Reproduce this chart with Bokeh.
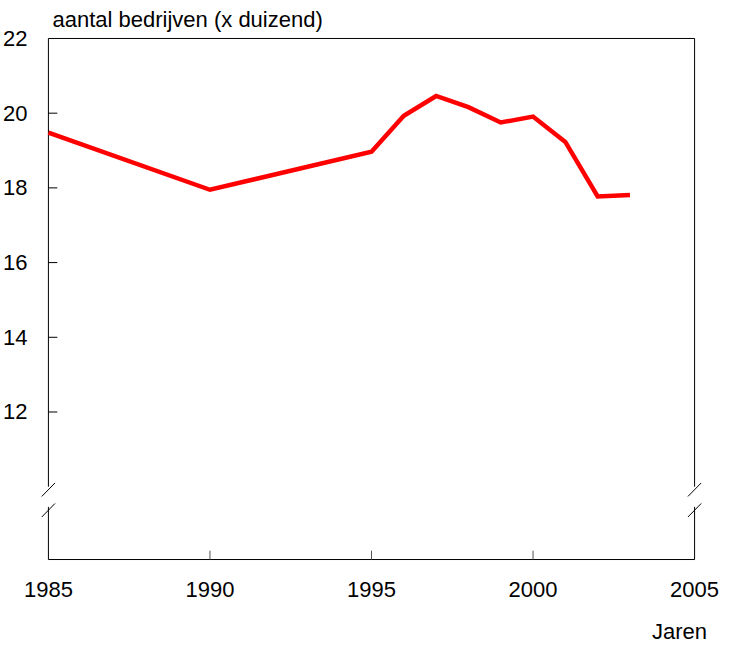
from bokeh.plotting import figure
from bokeh.models import Range1d, FixedTicker, ColumnDataSource, Div
from bokeh.layouts import column
from bokeh.embed import file_html
from bokeh.resources import INLINE

# ---- data ----
years = [1985, 1990, 1995, 1996, 1997, 1998, 1999, 2000, 2001, 2002, 2003]
bedrijven = [19.48, 17.95, 18.97, 19.93, 20.46, 20.16, 19.75, 19.91, 19.23, 17.77, 17.81]
x_ticks = [1985, 1990, 1995, 2000, 2005]
y_ticks = [12, 14, 16, 18, 20, 22]
y_axis_min = 8.05
y_break_upper = 10.0   # axis line stops here
y_break_lower = 9.46   # axis line resumes here
y_slashes = [9.92, 9.37]
title_text = "aantal bedrijven (x duizend)"
x_title = "Jaren"

FONT = "Liberation Sans"

# ---- layout (pixels) ----
W, H_TOTAL = 719, 630
H = 623
pad_x, pad_y = 8, 2
axis_left_px, axis_right_px = 41, 694
axis_top_px, axis_bottom_px = 31, 559
x0, x1 = x_ticks[0], x_ticks[-1]
y1 = y_ticks[-1]
px_per_x = (axis_right_px - axis_left_px) / (x1 - x0)
px_per_y = (axis_bottom_px - axis_top_px) / (y1 - y_axis_min)

p = figure(
    width=W, height=H,
    output_backend="svg", toolbar_location=None,
    x_range=Range1d(x0 - pad_x / px_per_x, x1 + pad_x / px_per_x),
    y_range=Range1d(y_axis_min - pad_y / px_per_y, y1 + pad_y / px_per_y),
    min_border_left=axis_left_px - pad_x,
    min_border_right=W - axis_right_px - pad_x,
    min_border_top=axis_top_px - pad_y,
    min_border_bottom=H - axis_bottom_px - pad_y,
    title=title_text,
)
p.outline_line_color = None
p.grid.visible = False
p.background_fill_color = "white"
p.border_fill_color = "white"

p.title.text_font = FONT
p.title.text_font_size = "22px"
p.title.text_font_style = "normal"
p.title.text_color = "black"
p.title.align = "left"
p.title.offset = 12
p.title.standoff = 9

for ax in (p.xaxis[0], p.yaxis[0]):
    ax.axis_line_color = None
    ax.major_tick_in = 0
    ax.major_tick_out = 0
    ax.minor_tick_line_color = None
    ax.major_label_text_font = FONT
    ax.major_label_text_font_size = "22px"
    ax.major_label_text_color = "black"

p.xaxis[0].ticker = FixedTicker(ticks=x_ticks)
p.yaxis[0].ticker = FixedTicker(ticks=y_ticks)
p.xaxis[0].major_label_standoff = 20
p.yaxis[0].major_label_standoff = 13

# ---- frame with broken vertical axes ----
fx0, fy0, fx1, fy1 = [], [], [], []
def seg(a, b, c, d):
    fx0.append(a); fy0.append(b); fx1.append(c); fy1.append(d)

seg(x0, y1, x1, y1)                      # top
seg(x0, y_axis_min, x1, y_axis_min)      # bottom
for xx in (x0, x1):
    seg(xx, y1, xx, y_break_upper)
    seg(xx, y_break_lower, xx, y_axis_min)
    for ys in y_slashes:
        dx = 6.7 / px_per_x
        dy = 6.85 / px_per_y
        seg(xx - dx, ys - dy, xx + dx, ys + dy)
p.segment(fx0, fy0, fx1, fy1, line_color="black", line_width=1)

# ticks (inside)
tl = 9
inner_y = y_ticks[:-1]
p.segment([x0] * len(inner_y), inner_y, [x0 + tl / px_per_x] * len(inner_y), inner_y,
          line_color="black", line_width=1)
inner_x = x_ticks[1:-1]
p.segment(inner_x, [y_axis_min] * len(inner_x), inner_x,
          [y_axis_min + tl / px_per_y] * len(inner_x), line_color="#555555", line_width=1)

# ---- data line ----
src = ColumnDataSource(dict(x=years, y=bedrijven))
p.line("x", "y", source=src, line_color="#ff0000", line_width=4.5, line_join="miter")

# ---- x-axis title below ----
div = Div(text=x_title, width=axis_right_px + pad_x, height=H_TOTAL - H,
          styles={"font-family": FONT, "font-size": "22px", "line-height": "7px",
                  "text-align": "right", "color": "black", "overflow": "visible"})

layout = column(p, div, spacing=0)
open("out.html", "w").write(file_html(layout, INLINE))
